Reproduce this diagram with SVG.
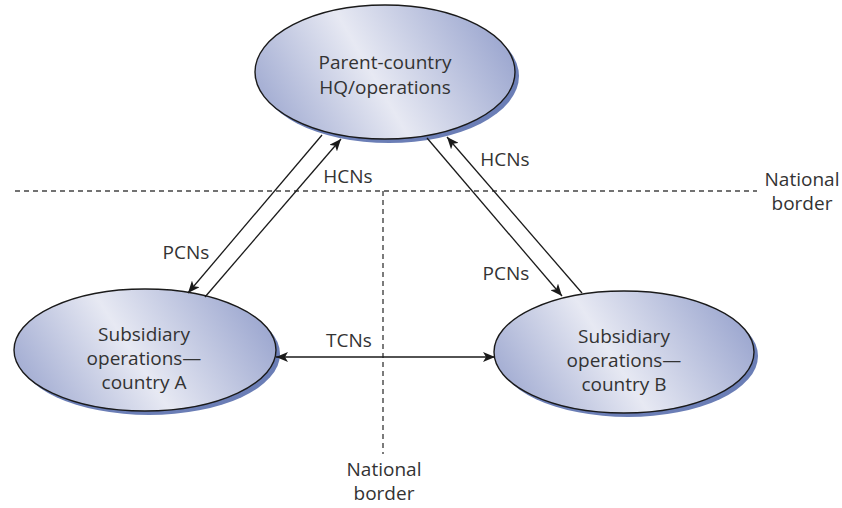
<svg xmlns="http://www.w3.org/2000/svg" width="842" height="508" viewBox="0 0 842 508">
<style>
text{font-family:"Open Sans","Noto Sans","Liberation Sans",sans-serif;font-size:19px;fill:#333;text-anchor:middle}
.sh{fill:#6b7eb6}
.el{fill:url(#g);stroke:#1a1a1a;stroke-width:1.4}
.ln{stroke:#1a1a1a;stroke-width:1.3;fill:none}
.dash{stroke:#444;stroke-width:1.4;stroke-dasharray:5 4;fill:none}
</style>
<defs>
<linearGradient id="g" x1="0" y1="0.65" x2="1" y2="0.35">
<stop offset="0" stop-color="#a2acd2"/>
<stop offset="0.45" stop-color="#e7e9f3"/>
<stop offset="1" stop-color="#9ba6cf"/>
</linearGradient>
<marker id="ah" viewBox="0 0 12 10" refX="12" refY="5" markerWidth="12" markerHeight="10" markerUnits="userSpaceOnUse" orient="auto-start-reverse">
<path d="M0,0 L12,5 L0,10 L3,5 z" fill="#1a1a1a"/>
</marker>
</defs>
<g id="borders">
<path class="dash" d="M15,191 H757"/>
<path class="dash" d="M383,191 V454"/>
<text x="802" y="186">National</text>
<text x="802" y="210">border</text>
<text x="384" y="476">National</text>
<text x="384" y="500">border</text>
</g>
<g id="hq">
<ellipse class="sh" cx="389" cy="76" rx="130" ry="67"/>
<ellipse class="el" cx="385" cy="72" rx="130" ry="67"/>
<text x="385" y="69">Parent-country</text>
<text x="385" y="94">HQ/operations</text>
</g>
<g id="subA">
<ellipse class="sh" cx="149" cy="354" rx="131" ry="61"/>
<ellipse class="el" cx="145" cy="350" rx="131" ry="61"/>
<text x="144" y="341">Subsidiary</text>
<text x="144" y="365">operations—</text>
<text x="144" y="389">country A</text>
</g>
<g id="subB">
<ellipse class="sh" cx="628" cy="356" rx="130" ry="61"/>
<ellipse class="el" cx="624" cy="352" rx="130" ry="61"/>
<text x="624" y="343">Subsidiary</text>
<text x="624" y="367">operations—</text>
<text x="624" y="391">country B</text>
</g>
<g id="connectors">
<line class="ln" x1="322" y1="135" x2="188" y2="293" marker-end="url(#ah)"/>
<line class="ln" x1="205" y1="297" x2="341" y2="139" marker-end="url(#ah)"/>
<line class="ln" x1="427" y1="138" x2="562" y2="296" marker-end="url(#ah)"/>
<line class="ln" x1="582" y1="293" x2="447" y2="137" marker-end="url(#ah)"/>
<line class="ln" x1="276" y1="357" x2="495" y2="357" marker-start="url(#ah)" marker-end="url(#ah)"/>
<text x="348" y="183">HCNs</text>
<text x="186" y="259">PCNs</text>
<text x="505" y="166">HCNs</text>
<text x="506" y="280">PCNs</text>
<text x="349" y="347">TCNs</text>
</g>
</svg>
